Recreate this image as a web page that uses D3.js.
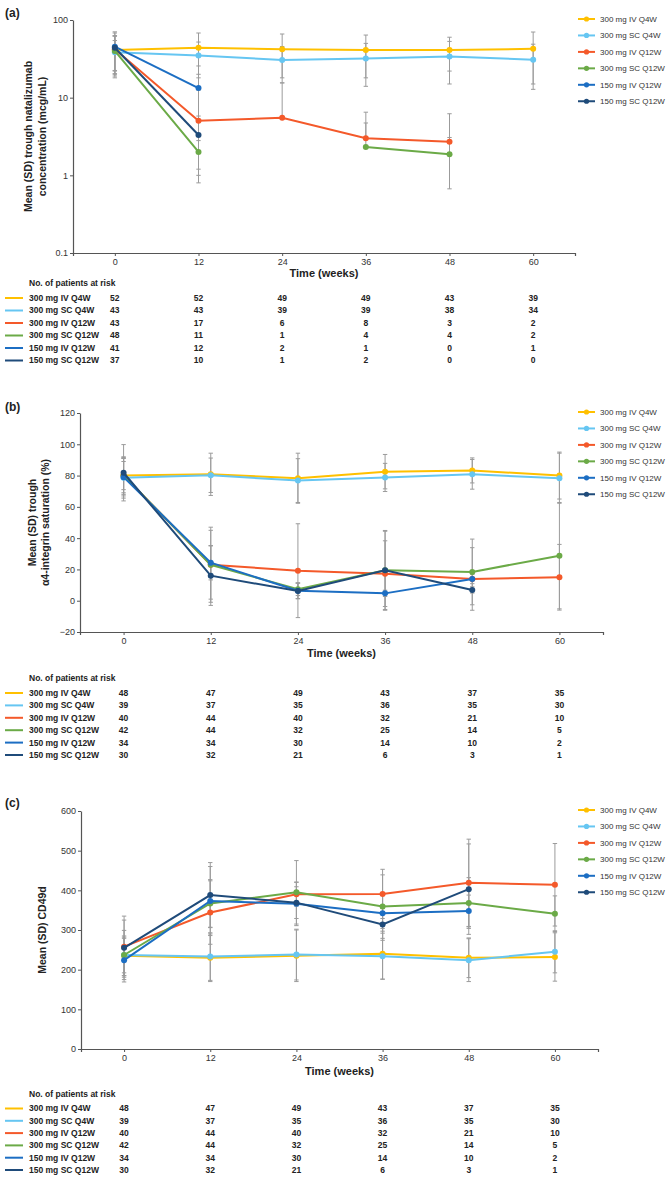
<!DOCTYPE html>
<html>
<head>
<meta charset="utf-8">
<script src="https://cdn.jsdelivr.net/npm/d3@7/dist/d3.min.js"></script>
<style>
  html, body { margin: 0; padding: 0; background: #fff; }
  svg { display: block; font-family: "Liberation Sans", Arial, sans-serif; }
</style>
</head>
<body>
<svg id="chart" width="671" height="1178"></svg>
<script>
// ---------------- DATA ----------------
const weeks = [0, 12, 24, 36, 48, 60];
const seriesNames = ["300 mg IV Q4W", "300 mg SC Q4W", "300 mg IV Q12W", "300 mg SC Q12W", "150 mg IV Q12W", "150 mg SC Q12W"];
const seriesColors = ["#FFC000", "#66C6F2", "#F4592A", "#6BAA47", "#1C6EC3", "#1F4B7A"];

// (a) trough natalizumab concentration (mcg/mL)
const meansA = [
  [41, 44, 42, 41, 41, 42.5],
  [38.4, 35, 30.5, 32, 34, 30.8],
  [42, 5.06, 5.5, 3.0, 2.71, null],
  [40, 2.0, null, 2.32, 1.87, null],
  [45.4, 13.3, null, null, null, null],
  [44, 3.3, null, null, null, null]
];
const sdA = [
  [22, 24, 24, 23, 19, 27.5],
  [16, 17, 15, 18, 19, 18],
  [20, 7.5, 10, 3.5, 3.5, null],
  [22, 0.8, null, 2.4, 1.2, null],
  [25, 12.3, null, null, null, null],
  [24, 2.5, null, null, null, null]
];
const atRiskA = [
  [52, 52, 49, 49, 43, 39],
  [43, 43, 39, 39, 38, 34],
  [43, 17, 6, 8, 3, 2],
  [48, 11, 1, 4, 4, 2],
  [41, 12, 2, 1, 0, 1],
  [37, 10, 1, 2, 0, 0]
];

// (b) trough α4-integrin saturation (%)
const meansB = [
  [80, 80.8, 78.3, 82.5, 83.3, 80],
  [78.6, 80.2, 76.8, 78.8, 80.8, 78.3],
  [80, 23, 19.2, 17.3, 13.9, 15],
  [80, 23, 7.3, 19.4, 18.4, 28.8],
  [79, 24.3, 6.4, 4.7, 13.9, null],
  [81.8, 16, 6.2, 19.4, 6.9, null]
];
const sdB = [
  [12, 13.5, 16, 11, 8, 15],
  [13, 11, 14, 9, 9.5, 16],
  [9, 24, 30, 21, 20, 21],
  [11, 22, 4, 25.5, 21, 34],
  [12, 11, 5, 2, 3, null],
  [18, 19, 5, 25, 2, null]
];

// (c) CD49d
const meansC = [
  [235, 230, 235, 240, 230, 232],
  [237, 233, 238, 234, 224, 245],
  [258, 344, 390, 391, 419, 414],
  [237, 367, 395, 359, 368, 341],
  [224, 373, 366, 342, 348, null],
  [255, 388, 369, 314, 403, null]
];
const sdC = [
  [50, 60, 65, 64, 50, 61],
  [45, 60, 64, 58, 54, 53],
  [77, 80, 30, 62, 110, 104],
  [62, 60, 80, 80, 64, 45],
  [55, 87, 55, 45, 40, null],
  [70, 82, 40, 40, 114, null]
];
const atRiskBC = [
  [48, 47, 49, 43, 37, 35],
  [39, 37, 35, 36, 35, 30],
  [40, 44, 40, 32, 21, 10],
  [42, 44, 32, 25, 14, 5],
  [34, 34, 30, 14, 10, 2],
  [30, 32, 21, 6, 3, 1]
];

const ticksA = [0.1, 1, 10, 100];
const ticksB = [-20, 0, 20, 40, 60, 80, 100, 120];
const ticksC = [0, 100, 200, 300, 400, 500, 600];
const xDomain = [-6, 66];

// ---------------- DRAW ----------------
const svg = d3.select("#chart");
const axisColor = "#555";
const errColor = "#9b9b9b";

function drawPanel(cfg) {
  const g = svg.append("g");
  const x = d3.scaleLinear().domain(xDomain).range([cfg.x0, cfg.x1]);
  const y = (cfg.log ? d3.scaleLog() : d3.scaleLinear()).domain(cfg.yDomain).range([cfg.yBot, cfg.yTop]);

  // panel label
  g.append("text").attr("x", 5).attr("y", cfg.labelY).attr("dy", "0.35em")
    .attr("font-size", 12).attr("font-weight", "bold").attr("fill", "#222").text(cfg.label);

  // y axis
  const ya = g.append("g").attr("transform", `translate(${cfg.x0},0)`)
    .call(d3.axisLeft(y).tickValues(cfg.ticks).tickSize(3).tickSizeOuter(0).tickPadding(2)
      .tickFormat(cfg.log ? (d => String(d)) : d3.format("d")));
  // x axis
  const xa = g.append("g").attr("transform", `translate(0,${cfg.yBot})`)
    .call(d3.axisBottom(x).tickValues(weeks).tickSize(3).tickSizeOuter(3).tickPadding(3));
  [ya, xa].forEach(a => {
    a.select(".domain").attr("stroke", axisColor).attr("stroke-width", 1.2);
    a.selectAll(".tick line").attr("stroke", axisColor);
    a.selectAll(".tick text").attr("font-size", 9).attr("fill", "#333");
  });

  // axis titles
  g.append("text").attr("x", (cfg.x0 + cfg.x1) / 2).attr("y", cfg.timeY).attr("dy", "0.35em")
    .attr("text-anchor", "middle").attr("font-size", 11).attr("font-weight", "bold").attr("fill", "#222")
    .text("Time (weeks)");
  const yc = (cfg.yTop + cfg.yBot) / 2;
  cfg.yTitle.forEach((t, i) => {
    g.append("text").attr("transform", `translate(${cfg.yTitleX[i]},${yc}) rotate(-90)`)
      .attr("dy", "0.35em").attr("text-anchor", "middle").attr("font-size", 10.5)
      .attr("font-weight", "bold").attr("fill", "#222").text(t);
  });

  const lo = cfg.yDomain[0];
  // error bars
  cfg.means.forEach((row, si) => {
    row.forEach((m, wi) => {
      if (m == null) return;
      const sd = cfg.sd[si][wi];
      if (sd == null) return;
      const up = m + sd, low = m - sd;
      const xx = x(weeks[wi]);
      const yUp = y(up);
      const hasLow = cfg.log ? low > lo : true;
      const yLow = hasLow ? y(low) : y(m);
      g.append("line").attr("x1", xx).attr("x2", xx).attr("y1", yUp).attr("y2", yLow)
        .attr("stroke", errColor).attr("stroke-width", 1);
      g.append("line").attr("x1", xx - 2.2).attr("x2", xx + 2.2).attr("y1", yUp).attr("y2", yUp)
        .attr("stroke", errColor).attr("stroke-width", 1);
      if (hasLow) g.append("line").attr("x1", xx - 2.2).attr("x2", xx + 2.2).attr("y1", yLow).attr("y2", yLow)
        .attr("stroke", errColor).attr("stroke-width", 1);
    });
  });

  // lines + points
  const line = d3.line().defined(d => d.v != null).x(d => x(d.w)).y(d => y(d.v));
  cfg.means.forEach((row, si) => {
    const pts = row.map((v, i) => ({ w: weeks[i], v }));
    g.append("path").datum(pts).attr("d", line).attr("fill", "none")
      .attr("stroke", seriesColors[si]).attr("stroke-width", 2);
    g.selectAll(null).data(pts.filter(d => d.v != null)).enter().append("circle")
      .attr("cx", d => x(d.w)).attr("cy", d => y(d.v)).attr("r", 3).attr("fill", seriesColors[si]);
  });

  // legend
  seriesNames.forEach((n, i) => {
    const ly = cfg.legendY0 + i * 16.45;
    g.append("line").attr("x1", 578).attr("x2", 595).attr("y1", ly).attr("y2", ly)
      .attr("stroke", seriesColors[i]).attr("stroke-width", 2);
    g.append("circle").attr("cx", 586.5).attr("cy", ly).attr("r", 2.6).attr("fill", seriesColors[i]);
    g.append("text").attr("x", 600).attr("y", ly).attr("dy", "0.35em").attr("font-size", 8)
      .attr("fill", "#333").text(n);
  });

  // at-risk table
  g.append("text").attr("x", 29).attr("y", cfg.tableTitleY).attr("dy", "0.35em")
    .attr("font-size", 8.5).attr("font-weight", "bold").attr("fill", "#222").text("No. of patients at risk");
  cfg.atRisk.forEach((row, si) => {
    const ry = cfg.row0 + si * cfg.rowStep;
    g.append("line").attr("x1", 5).attr("x2", 23).attr("y1", ry).attr("y2", ry)
      .attr("stroke", seriesColors[si]).attr("stroke-width", 2);
    g.append("text").attr("x", 29).attr("y", ry).attr("dy", "0.35em").attr("font-size", 8.5)
      .attr("font-weight", "bold").attr("fill", "#222").text(seriesNames[si]);
    row.forEach((n, wi) => {
      g.append("text").attr("x", x(weeks[wi])).attr("y", ry).attr("dy", "0.35em")
        .attr("text-anchor", "middle").attr("font-size", 8.5).attr("font-weight", "bold")
        .attr("fill", "#222").text(n);
    });
  });
}

drawPanel({
  label: "(a)", labelY: 12.5, x0: 73, x1: 575, yTop: 20, yBot: 253, log: true, yDomain: [0.1, 100],
  ticks: ticksA, timeY: 273, legendY0: 19, tableTitleY: 283, row0: 298, rowStep: 12.5,
  yTitle: ["Mean (SD) trough natalizumab", "concentration (mcg/mL)"], yTitleX: [28, 42],
  means: meansA, sd: sdA, atRisk: atRiskA
});
drawPanel({
  label: "(b)", labelY: 407, x0: 80, x1: 603, yTop: 413, yBot: 632, log: false, yDomain: [-20, 120],
  ticks: ticksB, timeY: 653, legendY0: 412, tableTitleY: 678, row0: 693, rowStep: 12.4,
  yTitle: ["Mean (SD) trough", "α4-integrin saturation (%)"], yTitleX: [32, 45],
  means: meansB, sd: sdB, atRisk: atRiskBC
});
drawPanel({
  label: "(c)", labelY: 803, x0: 81, x1: 598, yTop: 811, yBot: 1049, log: false, yDomain: [0, 600],
  ticks: ticksC, timeY: 1071, legendY0: 810, tableTitleY: 1094, row0: 1108.5, rowStep: 12.3,
  yTitle: ["Mean (SD) CD49d"], yTitleX: [42],
  means: meansC, sd: sdC, atRisk: atRiskBC
});
</script>
</body>
</html>
